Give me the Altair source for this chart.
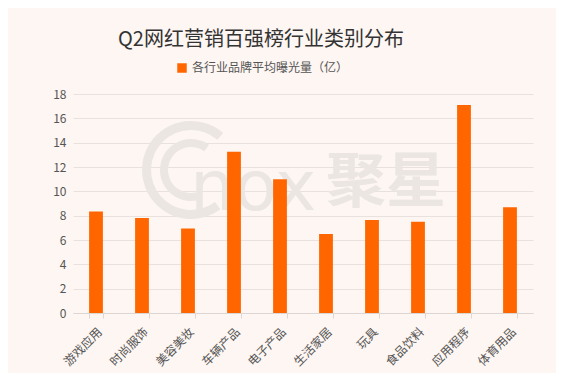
import altair as alt
import pandas as pd

categories = ["游戏应用", "时尚服饰", "美容美妆", "车辆产品", "电子产品", "生活家居", "玩具", "食品饮料", "应用程序", "体育用品"]
values = [8.35, 7.8, 6.95, 13.25, 11.0, 6.5, 7.65, 7.5, 17.1, 8.7]
series_name = "各行业品牌平均曝光量（亿）"
title_text = "Q2网红营销百强榜行业类别分布"
wm_latin = "nox"
wm_cjk = "聚星"
y_ticks = list(range(0, 19, 2))

df = pd.DataFrame({"类别": categories, "值": values, "系列": [series_name] * len(categories)})

FONT = "Noto Sans CJK SC"
WM = "#EBE6E2"

one = pd.DataFrame({"k": [0]})

wm_arc_outer = alt.Chart(one).mark_arc(color=WM).encode(
    x=alt.value(118), y=alt.value(76), radius=alt.value(49), radius2=alt.value(40),
    theta=alt.value(2.5), theta2=alt.value(7.0))
wm_arc_inner = alt.Chart(one).mark_arc(color=WM).encode(
    x=alt.value(118), y=alt.value(76), radius=alt.value(31), radius2=alt.value(23),
    theta=alt.value(2.9), theta2=alt.value(6.9))

wm_text1 = alt.Chart(pd.DataFrame({"t": [wm_latin]})).mark_text(
    font="DejaVu Sans", fontSize=70, color=WM, align="left", baseline="alphabetic"
).encode(text="t:N", x=alt.value(117), y=alt.value(116))

wm_text2 = alt.Chart(pd.DataFrame({"t": [wm_cjk]})).mark_text(
    font=FONT, fontSize=60, fontWeight="bold", color=WM, align="left", baseline="middle"
).encode(text="t:N", x=alt.value(253), y=alt.value(90))

bars = alt.Chart(df).mark_bar(color="#FF6600").encode(
    x=alt.X("类别:N", sort=categories, title=None,
            scale=alt.Scale(paddingInner=0.7, paddingOuter=0.35),
            axis=alt.Axis(labelAngle=-45, labelFontSize=12, labelColor="#555555",
                          labelFont=FONT, domainColor="#DDD6D2", tickColor="#DDD6D2",
                          tickBand="extent", tickSize=5, labelPadding=8, grid=False)),
    y=alt.Y("值:Q", title=None,
            scale=alt.Scale(domain=[0, 18]),
            axis=alt.Axis(values=y_ticks, labelFontSize=12, labelColor="#555555",
                          labelFont=FONT, domain=False, ticks=False, labelPadding=7,
                          gridColor="#E8E1DD")),
    color=alt.Color("系列:N", scale=alt.Scale(range=["#FF6600"]),
                    legend=alt.Legend(title=None, orient="none", legendX=103, legendY=-32,
                                      symbolType="square", symbolSize=90,
                                      labelFontSize=12, labelColor="#555555", labelFont=FONT)),
)

chart = alt.layer(wm_arc_outer, wm_arc_inner, wm_text1, wm_text2, bars).properties(
    width=460, height=219,
    padding={"left": 65, "top": 86, "right": 23, "bottom": 60},
    autosize=alt.AutoSizeParams(type="none"),
    background="#FDF6F2",
    title=alt.TitleParams(title_text, fontSize=20, font=FONT, fontWeight="normal",
                          color="#333333", anchor="middle", dx=-42, offset=12),
).configure_view(stroke=None)

chart.save("out.html", embed_options={"renderer": "svg", "actions": False})
